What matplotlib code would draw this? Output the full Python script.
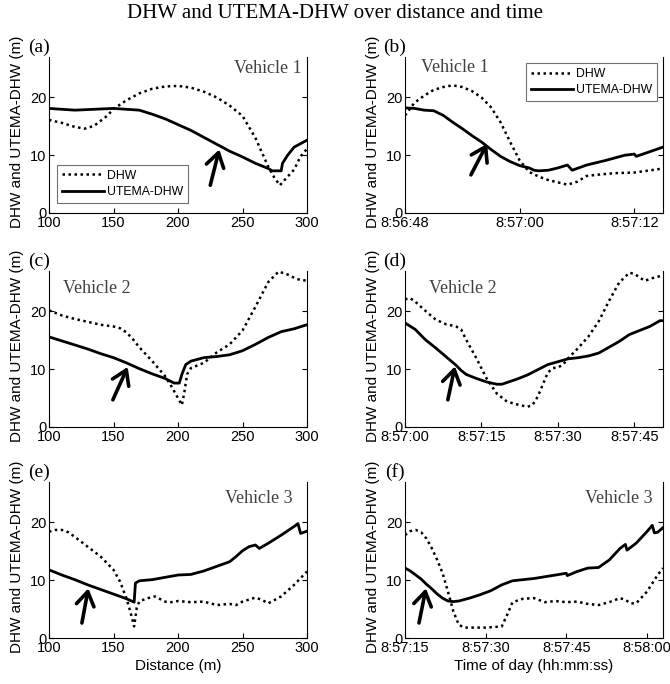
import matplotlib
matplotlib.use('Agg')
import matplotlib.pyplot as plt
from matplotlib.ticker import FuncFormatter

# ---- donnees ----
# (a) vehicule 1, distance (m)
x_a_dhw = [100, 110, 120, 128, 135, 145, 150, 160, 170, 180, 190, 200, 210, 220, 230, 240,
           250, 260, 265, 270, 275, 279, 283, 290, 295, 300]
y_a_dhw = [16.1, 15.6, 14.9, 14.6, 15.1, 16.8, 18.0, 19.5, 20.7, 21.5, 21.9, 22.0, 21.7, 21.0,
           20.0, 18.6, 16.8, 13.0, 10.5, 8.0, 6.0, 4.8, 5.8, 7.5, 9.8, 11.1]
x_a_ut = [100, 120, 150, 170, 180, 190, 200, 210, 220, 230, 240, 250, 260, 270, 273, 280,
          281, 285, 290, 295, 300]
y_a_ut = [18.1, 17.8, 18.1, 17.8, 17.1, 16.3, 15.3, 14.3, 13.1, 11.9, 10.7, 9.7, 8.6, 7.7,
          7.3, 7.3, 8.6, 10.0, 11.4, 12.0, 12.6]

# (b) vehicule 1, secondes apres 8:56:48
t_b_dhw = [0, 1, 2, 3, 4, 5, 6, 7, 8, 9, 10, 11, 12, 13, 14, 15, 16, 17, 18, 19, 20, 22, 24, 27]
y_b_dhw = [16.9, 19.1, 20.3, 21.3, 21.8, 22.1, 21.8, 21.1, 20.0, 18.3, 15.7, 12.3, 9.1, 7.1,
           6.3, 5.7, 5.3, 4.9, 5.4, 6.4, 6.6, 6.9, 7.0, 7.7]
t_b_ut = [0, 1, 2, 3, 4, 5, 6, 7, 8, 9, 10, 11, 12, 13, 13.5, 14, 15, 16, 17, 17.5, 19, 21,
          23, 24, 24.2, 27]
y_b_ut = [18.2, 18.1, 17.8, 17.7, 16.9, 15.7, 14.6, 13.4, 12.3, 11.0, 9.8, 8.9, 8.2, 7.8,
          7.4, 7.3, 7.4, 7.8, 8.3, 7.4, 8.3, 9.1, 10.0, 10.2, 9.8, 11.4]

# (c) vehicule 2, distance (m)
x_c_dhw = [100, 110, 120, 130, 140, 150, 155, 160, 165, 170, 180, 190, 195, 200, 203, 205,
           207, 210, 220, 230, 240, 250, 260, 270, 278, 285, 292, 300]
y_c_dhw = [20.2, 19.3, 18.7, 18.2, 17.7, 17.4, 17.1, 16.4, 15.2, 13.8, 11.4, 8.8, 7.0, 5.0,
           3.8, 6.1, 9.1, 10.2, 11.1, 12.9, 14.3, 16.7, 20.8, 25.1, 26.9, 26.4, 25.6, 25.3]
x_c_ut = [100, 110, 120, 130, 140, 150, 160, 170, 180, 190, 197, 201, 203, 206, 210, 220,
          230, 240, 250, 260, 270, 280, 290, 300]
y_c_ut = [15.6, 14.9, 14.2, 13.5, 12.7, 12.0, 11.1, 10.1, 9.2, 8.4, 7.6, 7.6, 9.1, 10.8,
          11.4, 12.0, 12.2, 12.5, 13.2, 14.3, 15.5, 16.5, 17.0, 17.7]

# (d) vehicule 2, secondes apres 8:57:00
t_d_dhw = [0, 1, 2, 4, 6, 8, 10, 11, 12, 14, 16, 18, 20, 22, 24, 25, 26, 27, 28, 29, 30, 31,
           32, 34, 36, 38, 40, 42, 44, 45, 47, 49, 51]
y_d_dhw = [22.1, 22.3, 21.7, 20.1, 18.6, 17.8, 17.4, 16.9, 15.1, 11.9, 8.4, 5.8, 4.4, 3.9,
           3.5, 3.8, 5.2, 7.3, 9.4, 10.2, 10.3, 10.8, 11.9, 13.7, 15.7, 18.3, 21.8, 25.0,
           26.7, 26.5, 25.3, 25.9, 26.3]
t_d_ut = [0, 2, 4, 6, 8, 10, 11, 12, 14, 16, 18, 19, 20, 22, 24, 26, 28, 30, 32, 34, 36, 38,
          40, 42, 44, 46, 48, 50, 51]
y_d_ut = [18.0, 16.9, 15.1, 13.7, 12.2, 10.7, 9.8, 9.1, 8.4, 7.8, 7.4, 7.4, 7.7, 8.3, 9.0,
          9.9, 10.8, 11.3, 11.8, 12.0, 12.3, 12.8, 13.8, 14.8, 16.0, 16.7, 17.4, 18.4, 18.4]

# (e) vehicule 3, distance (m)
x_e_dhw = [100, 105, 110, 115, 120, 130, 140, 150, 155, 160, 163, 166, 168, 170, 175, 182,
           190, 195, 200, 210, 220, 230, 240, 245, 250, 260, 265, 270, 280, 290, 300]
y_e_dhw = [18.4, 18.7, 18.7, 18.3, 17.5, 15.8, 14.1, 11.8, 9.8, 6.9, 4.6, 2.0, 5.2, 6.3,
           6.8, 7.2, 6.3, 6.2, 6.4, 6.2, 6.3, 5.7, 5.9, 5.7, 6.3, 7.0, 6.6, 6.0, 7.2, 9.2, 11.5]
x_e_ut = [100, 110, 120, 130, 140, 150, 160, 166, 167, 170, 180, 190, 200, 210, 220, 230,
          240, 245, 250, 255, 260, 263, 270, 280, 290, 293, 295, 300]
y_e_ut = [11.8, 10.9, 10.1, 9.2, 8.4, 7.6, 6.8, 6.2, 9.5, 9.9, 10.1, 10.5, 10.9, 11.0, 11.6,
          12.4, 13.2, 14.1, 15.1, 15.8, 16.1, 15.5, 16.4, 17.8, 19.3, 19.8, 18.1, 18.5]

# (f) vehicule 3, secondes apres 8:57:15
t_f_dhw = [0, 1, 2, 3, 4, 5, 6, 7, 8, 9, 10, 11, 15, 18, 19, 20, 22, 24, 26, 28, 30, 32, 34,
           36, 38, 40, 41, 42, 43, 45, 47, 48]
y_f_dhw = [17.8, 18.5, 18.7, 18.3, 17.2, 15.5, 13.5, 11.2, 8.0, 4.6, 2.3, 1.8, 1.8, 2.0, 4.0,
           6.2, 6.8, 6.9, 6.2, 6.4, 6.2, 6.3, 5.9, 5.7, 6.2, 6.9, 6.6, 6.0, 6.0, 8.0, 10.9, 12.1]
t_f_ut = [0, 1, 2, 3, 4, 5, 6, 7, 8, 9, 10, 12, 14, 16, 18, 20, 22, 24, 26, 28, 30, 30.2, 32,
          34, 36, 38, 40, 41, 41.3, 43, 45, 46, 46.4, 47, 48]
y_f_ut = [12.1, 11.6, 10.9, 10.2, 9.3, 8.5, 7.6, 6.9, 6.4, 6.3, 6.4, 6.9, 7.5, 8.2, 9.2, 9.9,
          10.1, 10.3, 10.6, 10.9, 11.2, 10.8, 11.5, 12.1, 12.2, 13.5, 15.5, 16.2, 15.2, 16.4,
          18.4, 19.5, 18.2, 18.3, 19.1]

debut_b, debut_d, debut_f = '8:56:48', '8:57:00', '8:57:15'
ticks_b = ['8:56:48', '8:57:00', '8:57:12']
ticks_d = ['8:57:00', '8:57:15', '8:57:30', '8:57:45']
ticks_f = ['8:57:15', '8:57:30', '8:57:45', '8:58:00']
vehicules = ['Vehicle 1', 'Vehicle 1', 'Vehicle 2', 'Vehicle 2', 'Vehicle 3', 'Vehicle 3']
lettres = ['(a)', '(b)', '(c)', '(d)', '(e)', '(f)']


def en_sec(hms):
    h, m, s = hms.split(':')
    return int(h) * 3600 + int(m) * 60 + int(s)


def fmt_temps(v, pos):
    v = int(round(v))
    return f"{v // 3600}:{(v % 3600) // 60:02d}:{v % 60:02d}"


SERIF = 'Liberation Serif'
SANS = 'Liberation Sans'
plt.rcParams['font.family'] = SANS
plt.rcParams['font.size'] = 10.5

fig = plt.figure(figsize=(6.7, 6.84), dpi=100)
fig.text(0.5, 1 - 14 / 684, 'DHW and UTEMA-DHW over distance and time',
         family=SERIF, fontsize=15, ha='center', va='center')

W, H = 258 / 670, 156 / 684
lefts = [49 / 670, 405 / 670]
bottoms = [1 - 213 / 684, 1 - 427 / 684, 1 - 638 / 684]

dotted = (0, (1, 1.4))
axes = []
for r in range(3):
    for c in range(2):
        axes.append(fig.add_axes([lefts[c], bottoms[r], W, H]))

# donnees par panneau
d0_b, d0_d, d0_f = en_sec(debut_b), en_sec(debut_d), en_sec(debut_f)
series = [
    (x_a_dhw, y_a_dhw, x_a_ut, y_a_ut),
    ([d0_b + t for t in t_b_dhw], y_b_dhw, [d0_b + t for t in t_b_ut], y_b_ut),
    (x_c_dhw, y_c_dhw, x_c_ut, y_c_ut),
    ([d0_d + t for t in t_d_dhw], y_d_dhw, [d0_d + t for t in t_d_ut], y_d_ut),
    (x_e_dhw, y_e_dhw, x_e_ut, y_e_ut),
    ([d0_f + t for t in t_f_dhw], y_f_dhw, [d0_f + t for t in t_f_ut], y_f_ut),
]
xlims = [(100, 300), (d0_b, d0_b + 27), (100, 300), (d0_d, d0_d + 50.6),
         (100, 300), (d0_f, d0_f + 48)]
# fleches: (queue, pointe) en coordonnees de donnees
fleches = [((225, 4.8), (232, 11.0)),
           ((d0_b + 6.9, 6.6), (d0_b + 8.6, 12.0)),
           ((149.5, 4.7), (161, 10.4)),
           ((d0_d + 8.4, 4.7), (d0_d + 9.8, 10.5)),
           ((125.5, 2.6), (130.5, 8.6)),
           ((d0_f + 2.6, 2.6), (d0_f + 3.9, 8.6))]
pos_vehicule = [(0.98, 0.925, 'right'), (0.062, 0.93, 'left'), (0.054, 0.89, 'left'),
                (0.093, 0.89, 'left'), (0.946, 0.897, 'right'), (0.961, 0.897, 'right')]

for i, ax in enumerate(axes):
    xd, yd, xu, yu = series[i]
    ax.plot(xd, yd, color='black', lw=1.8, linestyle=dotted, label='DHW')
    ax.plot(xu, yu, color='black', lw=2.0, label='UTEMA-DHW')
    ax.set_xlim(*xlims[i])
    ax.set_ylim(0, 27)
    ax.set_yticks([0, 10, 20])
    ax.spines['top'].set_visible(False)
    ax.tick_params(direction='in', right=True, length=3.5, width=0.8, pad=2)
    ax.set_ylabel('DHW and UTEMA-DHW (m)', fontsize=11)
    ax.yaxis.set_label_coords(-0.095, 0.52)
    if i % 2 == 0:
        ax.set_xticks([100, 150, 200, 250, 300])
    else:
        tk = [ticks_b, ticks_d, ticks_f][i // 2]
        ax.set_xticks([en_sec(t) for t in tk])
        ax.xaxis.set_major_formatter(FuncFormatter(fmt_temps))
    ax.text(-0.039, 1.065, lettres[i], transform=ax.transAxes, family=SERIF,
            fontsize=14, ha='center', va='center')
    px, py, ha = pos_vehicule[i]
    ax.text(px, py, vehicules[i], transform=ax.transAxes, family=SERIF,
            fontsize=13, color='#404040', ha=ha, va='center')
    (tx, ty), (hx, hy) = fleches[i]
    ax.annotate('', xy=(hx, hy), xytext=(tx, ty),
                arrowprops=dict(arrowstyle='->,head_length=0.5,head_width=0.32',
                                lw=2.6, color='black', shrinkA=0, shrinkB=0,
                                mutation_scale=20))

axes[4].set_xlabel('Distance (m)', fontsize=11, labelpad=3)
axes[5].set_xlabel('Time of day (hh:mm:ss)', fontsize=11, labelpad=3)

for ax, loc, anchor in [(axes[0], 'lower left', (0.03, 0.065)),
                        (axes[1], 'upper right', (0.977, 0.962))]:
    leg = ax.legend(loc=loc, bbox_to_anchor=anchor, borderaxespad=0, fontsize=8.8,
                    handlelength=3.5, handletextpad=0.2, fancybox=False,
                    framealpha=1, edgecolor='#707070', borderpad=0.4,
                    labelspacing=0.35)
    leg.get_frame().set_linewidth(0.8)

fig.savefig('out.png', dpi=100)
